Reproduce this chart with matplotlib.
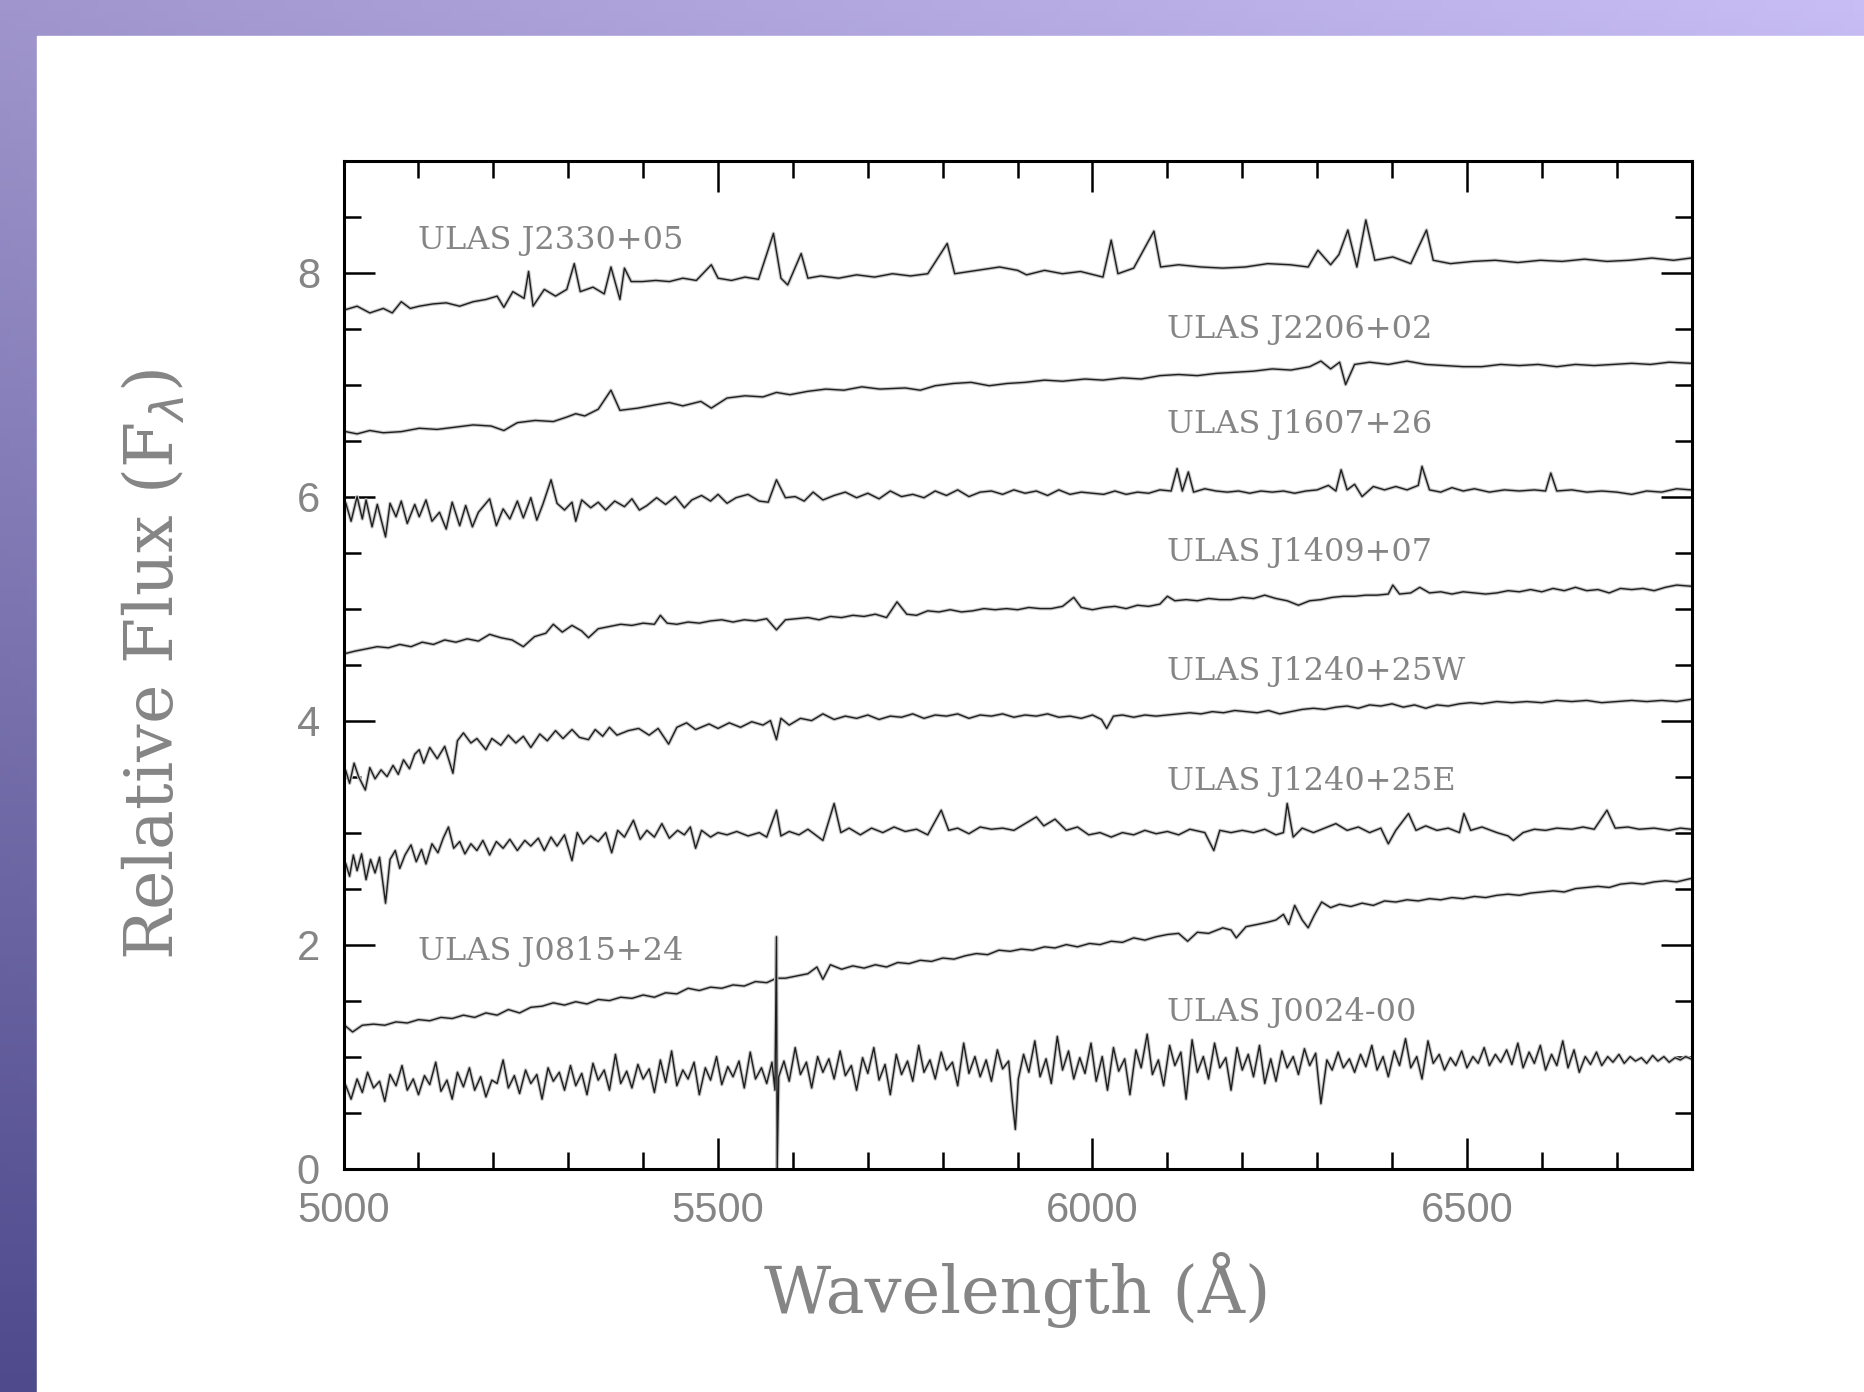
import numpy as np
import matplotlib
matplotlib.use("Agg")
import matplotlib.pyplot as plt
from matplotlib.patches import Rectangle
from matplotlib.ticker import MultipleLocator

# spectra: (wavelength in A, relative flux)
wl_2330 = [5003, 5018, 5035, 5053, 5065, 5077, 5089, 5101, 5119, 5137, 5155, 5173, 5190, 5205, 5214, 5226,
           5241, 5247, 5253, 5268, 5283, 5298, 5308, 5316, 5333, 5348, 5357, 5369, 5375, 5384, 5399, 5417,
           5435, 5453, 5471, 5491, 5500, 5518, 5536, 5554, 5574, 5584, 5593, 5611, 5620, 5637, 5661, 5685,
           5709, 5733, 5757, 5780, 5806, 5816, 5846, 5876, 5900, 5912, 5936, 5960, 5984, 6014, 6025, 6034,
           6055, 6082, 6091, 6115, 6145, 6174, 6204, 6234, 6264, 6288, 6301, 6318, 6329, 6341, 6353, 6365,
           6377, 6401, 6425, 6446, 6455, 6478, 6508, 6538, 6568, 6598, 6627, 6657, 6687, 6717, 6747, 6776, 6799]
fx_2330 = [7.67, 7.70, 7.64, 7.68, 7.64, 7.74, 7.68, 7.70, 7.72, 7.73, 7.70, 7.74, 7.76, 7.79, 7.69, 7.83,
           7.77, 8.01, 7.70, 7.85, 7.79, 7.85, 8.08, 7.83, 7.87, 7.81, 8.05, 7.76, 8.04, 7.92, 7.92, 7.93,
           7.92, 7.95, 7.93, 8.07, 7.95, 7.93, 7.96, 7.94, 8.35, 7.95, 7.89, 8.17, 7.95, 7.97, 7.95, 7.98,
           7.96, 7.99, 7.97, 7.99, 8.26, 7.99, 8.02, 8.05, 8.02, 7.98, 8.02, 7.99, 8.01, 7.96, 8.29, 7.99,
           8.04, 8.37, 8.05, 8.07, 8.05, 8.04, 8.05, 8.08, 8.07, 8.05, 8.20, 8.07, 8.16, 8.38, 8.05, 8.47,
           8.11, 8.14, 8.08, 8.38, 8.11, 8.08, 8.10, 8.11, 8.09, 8.11, 8.10, 8.12, 8.10, 8.11, 8.13, 8.11, 8.13]

wl_2206 = [5003, 5018, 5035, 5053, 5077, 5101, 5125, 5149, 5173, 5197, 5214, 5232, 5256, 5280, 5298, 5310,
           5322, 5340, 5357, 5369, 5393, 5417, 5435, 5453, 5477, 5491, 5512, 5536, 5560, 5578, 5596, 5620,
           5644, 5668, 5692, 5716, 5750, 5770, 5790, 5814, 5838, 5862, 5886, 5910, 5936, 5960, 5990, 6014,
           6040, 6065, 6090, 6115, 6140, 6165, 6190, 6215, 6240, 6265, 6290, 6305, 6318, 6330, 6338, 6350,
           6370, 6395, 6420, 6445, 6470, 6495, 6520, 6545, 6570, 6595, 6620, 6645, 6670, 6695, 6720, 6745,
           6770, 6799]
fx_2206 = [6.58, 6.56, 6.59, 6.57, 6.58, 6.61, 6.60, 6.62, 6.64, 6.63, 6.59, 6.66, 6.68, 6.67, 6.71, 6.74,
           6.72, 6.78, 6.95, 6.77, 6.79, 6.82, 6.84, 6.81, 6.85, 6.79, 6.88, 6.90, 6.89, 6.93, 6.91, 6.94,
           6.96, 6.95, 6.98, 6.96, 6.97, 6.95, 6.99, 7.01, 7.02, 6.99, 7.01, 7.02, 7.04, 7.03, 7.05, 7.04,
           7.06, 7.05, 7.08, 7.09, 7.08, 7.10, 7.11, 7.12, 7.14, 7.13, 7.16, 7.21, 7.14, 7.20, 7.00, 7.18,
           7.20, 7.18, 7.21, 7.18, 7.17, 7.16, 7.16, 7.18, 7.17, 7.18, 7.16, 7.18, 7.17, 7.18, 7.19, 7.18,
           7.20, 7.19]

wl_1607 = [5003, 5010, 5018, 5025, 5030, 5038, 5045, 5056, 5062, 5070, 5077, 5085, 5095, 5101, 5110, 5118,
           5128, 5137, 5145, 5155, 5163, 5172, 5180, 5195, 5204, 5213, 5222, 5232, 5240, 5250, 5258, 5266,
           5277, 5285, 5295, 5305, 5310, 5318, 5330, 5340, 5350, 5362, 5375, 5385, 5395, 5405, 5418, 5430,
           5443, 5455, 5465, 5478, 5490, 5500, 5512, 5524, 5540, 5555, 5567, 5578, 5590, 5603, 5615, 5627,
           5640, 5655, 5670, 5685, 5700, 5715, 5730, 5745, 5760, 5775, 5790, 5805, 5820, 5835, 5850, 5865,
           5880, 5895, 5910, 5925, 5940, 5955, 5970, 5985, 6000, 6015, 6030, 6045, 6060, 6075, 6090, 6105,
           6113, 6120, 6128, 6135, 6150, 6165, 6180, 6195, 6210, 6225, 6240, 6255, 6270, 6285, 6300, 6315,
           6325, 6332, 6340, 6350, 6360, 6375, 6390, 6405, 6420, 6435, 6440, 6450, 6465, 6480, 6495, 6510,
           6530, 6550, 6570, 6590, 6605, 6612, 6620, 6640, 6660, 6680, 6700, 6720, 6740, 6760, 6780, 6799]
fx_1607 = [5.94, 5.78, 6.00, 5.80, 5.97, 5.73, 5.93, 5.64, 5.94, 5.82, 5.96, 5.76, 5.93, 5.82, 5.97, 5.78,
           5.86, 5.71, 5.95, 5.74, 5.92, 5.73, 5.86, 5.98, 5.74, 5.89, 5.80, 5.96, 5.81, 5.99, 5.79, 5.93,
           6.15, 5.94, 5.88, 5.95, 5.78, 5.97, 5.90, 5.95, 5.88, 5.96, 5.91, 5.98, 5.88, 5.92, 5.99, 5.93,
           6.00, 5.90, 5.97, 6.01, 5.96, 6.02, 5.94, 5.99, 6.02, 5.96, 5.95, 6.15, 5.99, 6.00, 5.96, 6.04,
           5.97, 6.01, 6.04, 5.99, 6.03, 5.98, 6.05, 6.00, 6.02, 5.99, 6.05, 6.01, 6.06, 6.00, 6.04, 6.05,
           6.02, 6.06, 6.03, 6.05, 6.01, 6.06, 6.02, 6.04, 6.03, 6.02, 6.05, 6.02, 6.04, 6.03, 6.06, 6.05,
           6.25, 6.05, 6.22, 6.04, 6.07, 6.05, 6.04, 6.05, 6.03, 6.05, 6.04, 6.05, 6.03, 6.05, 6.06, 6.10,
           6.05, 6.24, 6.06, 6.11, 6.00, 6.09, 6.06, 6.09, 6.06, 6.10, 6.27, 6.06, 6.04, 6.08, 6.05, 6.07,
           6.04, 6.06, 6.05, 6.06, 6.05, 6.21, 6.05, 6.06, 6.04, 6.05, 6.04, 6.02, 6.05, 6.04, 6.07, 6.06]

wl_1409 = [5003, 5015, 5030, 5045, 5060, 5075, 5090, 5105, 5120, 5135, 5150, 5165, 5180, 5195, 5210, 5225,
           5240, 5255, 5270, 5280, 5292, 5305, 5318, 5327, 5340, 5355, 5370, 5385, 5400, 5415, 5423, 5432,
           5445, 5460, 5475, 5490, 5505, 5520, 5535, 5550, 5565, 5578, 5590, 5605, 5620, 5635, 5650, 5665,
           5680, 5695, 5710, 5725, 5739, 5752, 5765, 5780, 5795, 5810, 5825, 5840, 5855, 5870, 5885, 5900,
           5915, 5930, 5945, 5960, 5975, 5985, 6000, 6015, 6030, 6045, 6060, 6075, 6090, 6100, 6110, 6125,
           6140, 6155, 6170, 6185, 6200, 6215, 6230, 6245, 6260, 6275, 6290, 6305, 6320, 6335, 6350, 6365,
           6380, 6395, 6401, 6410, 6425, 6437, 6450, 6465, 6480, 6495, 6510, 6525, 6540, 6555, 6570, 6585,
           6600, 6615, 6630, 6645, 6660, 6675, 6690, 6705, 6720, 6735, 6750, 6765, 6780, 6799]
fx_1409 = [4.60, 4.62, 4.64, 4.66, 4.65, 4.68, 4.66, 4.70, 4.68, 4.72, 4.70, 4.73, 4.71, 4.77, 4.74, 4.72,
           4.66, 4.75, 4.78, 4.86, 4.79, 4.85, 4.80, 4.74, 4.82, 4.84, 4.86, 4.85, 4.87, 4.86, 4.94, 4.87,
           4.86, 4.88, 4.87, 4.89, 4.90, 4.88, 4.90, 4.89, 4.91, 4.81, 4.90, 4.91, 4.92, 4.90, 4.93, 4.92,
           4.94, 4.93, 4.95, 4.92, 5.06, 4.95, 4.94, 4.98, 4.97, 4.99, 4.97, 4.98, 5.00, 4.99, 5.00, 4.99,
           5.01, 5.00, 5.00, 5.02, 5.10, 5.01, 4.99, 5.01, 5.02, 5.00, 5.03, 5.02, 5.04, 5.11, 5.07, 5.08,
           5.07, 5.09, 5.08, 5.08, 5.10, 5.09, 5.12, 5.09, 5.07, 5.03, 5.07, 5.08, 5.10, 5.11, 5.11, 5.12,
           5.12, 5.13, 5.21, 5.13, 5.14, 5.19, 5.14, 5.15, 5.13, 5.15, 5.14, 5.13, 5.14, 5.16, 5.15, 5.17,
           5.15, 5.18, 5.16, 5.19, 5.16, 5.17, 5.14, 5.18, 5.17, 5.18, 5.16, 5.19, 5.21, 5.20]

wl_1240w = [5003, 5008, 5014, 5020, 5029, 5035, 5042, 5050, 5058, 5066, 5073, 5080, 5088, 5095, 5101, 5107,
            5115, 5125, 5135, 5146, 5152, 5160, 5170, 5178, 5190, 5198, 5210, 5220, 5230, 5240, 5250, 5262,
            5272, 5283, 5293, 5305, 5315, 5327, 5336, 5346, 5355, 5365, 5380, 5394, 5408, 5420, 5434, 5445,
            5458, 5470, 5488, 5500, 5515, 5530, 5545, 5560, 5570, 5578, 5584, 5595, 5610, 5625, 5640, 5655,
            5670, 5685, 5700, 5715, 5730, 5745, 5760, 5775, 5790, 5805, 5820, 5835, 5850, 5865, 5880, 5895,
            5910, 5925, 5940, 5955, 5970, 5985, 6000, 6012, 6019, 6028, 6040, 6055, 6070, 6085, 6100, 6115,
            6130, 6145, 6160, 6175, 6190, 6205, 6220, 6235, 6250, 6265, 6280, 6295, 6310, 6325, 6340, 6355,
            6370, 6385, 6400, 6415, 6430, 6445, 6460, 6475, 6490, 6505, 6520, 6540, 6560, 6580, 6600, 6620,
            6640, 6660, 6680, 6700, 6720, 6740, 6760, 6780, 6799]
fx_1240w = [3.55, 3.44, 3.62, 3.50, 3.38, 3.58, 3.48, 3.56, 3.50, 3.60, 3.52, 3.65, 3.57, 3.70, 3.74, 3.62,
            3.76, 3.66, 3.77, 3.53, 3.82, 3.89, 3.80, 3.84, 3.74, 3.84, 3.78, 3.87, 3.80, 3.86, 3.76, 3.88,
            3.82, 3.91, 3.84, 3.92, 3.85, 3.83, 3.92, 3.86, 3.94, 3.87, 3.91, 3.93, 3.87, 3.93, 3.79, 3.94,
            3.98, 3.92, 3.97, 3.93, 3.98, 3.94, 3.99, 3.96, 4.00, 3.83, 4.02, 3.96, 4.02, 4.00, 4.06, 4.01,
            4.04, 4.02, 4.05, 4.01, 4.04, 4.03, 4.06, 4.02, 4.05, 4.04, 4.06, 4.02, 4.05, 4.04, 4.06, 4.03,
            4.05, 4.04, 4.06, 4.03, 4.04, 4.02, 4.05, 4.01, 3.93, 4.04, 4.05, 4.03, 4.05, 4.04, 4.05, 4.06,
            4.07, 4.06, 4.08, 4.07, 4.09, 4.08, 4.07, 4.09, 4.06, 4.08, 4.10, 4.11, 4.10, 4.12, 4.13, 4.11,
            4.14, 4.13, 4.15, 4.12, 4.14, 4.11, 4.14, 4.13, 4.15, 4.16, 4.15, 4.17, 4.16, 4.17, 4.16, 4.18,
            4.17, 4.18, 4.16, 4.17, 4.18, 4.17, 4.18, 4.17, 4.19]

wl_1240e = [5003, 5008, 5013, 5018, 5024, 5030, 5036, 5042, 5048, 5056, 5062, 5069, 5075, 5082, 5090, 5097,
            5104, 5110, 5118, 5126, 5133, 5140, 5147, 5155, 5162, 5170, 5178, 5186, 5195, 5204, 5213, 5222,
            5232, 5242, 5250, 5260, 5268, 5277, 5285, 5295, 5305, 5312, 5320, 5330, 5340, 5350, 5358, 5366,
            5375, 5387, 5396, 5405, 5415, 5425, 5435, 5446, 5455, 5463, 5470, 5478, 5490, 5500, 5512, 5525,
            5540, 5555, 5565, 5578, 5584, 5595, 5608, 5620, 5640, 5655, 5664, 5675, 5690, 5705, 5720, 5735,
            5750, 5765, 5780, 5798, 5808, 5820, 5835, 5850, 5865, 5880, 5895, 5910, 5925, 5935, 5950, 5965,
            5980, 5995, 6010, 6025, 6040, 6055, 6070, 6085, 6100, 6115, 6130, 6150, 6162, 6170, 6185, 6200,
            6215, 6230, 6245, 6255, 6260, 6268, 6280, 6295, 6310, 6325, 6340, 6355, 6370, 6385, 6395, 6405,
            6422, 6432, 6445, 6460, 6475, 6490, 6496, 6505, 6520, 6540, 6555, 6562, 6575, 6590, 6605, 6620,
            6640, 6655, 6670, 6687, 6698, 6715, 6730, 6750, 6770, 6785, 6799]
fx_1240e = [2.72, 2.61, 2.80, 2.66, 2.81, 2.58, 2.76, 2.64, 2.78, 2.37, 2.76, 2.84, 2.68, 2.80, 2.89, 2.74,
            2.85, 2.72, 2.90, 2.82, 2.95, 3.05, 2.86, 2.92, 2.81, 2.90, 2.84, 2.93, 2.80, 2.92, 2.86, 2.94,
            2.84, 2.93, 2.88, 2.95, 2.84, 2.96, 2.88, 2.98, 2.75, 3.00, 2.90, 2.97, 2.92, 3.00, 2.82, 3.02,
            2.96, 3.11, 2.94, 3.02, 2.96, 3.08, 2.95, 3.02, 2.98, 3.05, 2.86, 3.02, 2.96, 3.00, 2.98, 3.01,
            2.97, 3.00, 2.96, 3.20, 2.97, 3.01, 2.98, 3.03, 2.93, 3.26, 3.00, 3.04, 2.98, 3.04, 3.00, 3.05,
            3.01, 3.03, 2.98, 3.20, 3.02, 3.04, 2.99, 3.05, 3.03, 3.04, 3.02, 3.08, 3.14, 3.06, 3.12, 3.02,
            3.05, 2.98, 3.00, 2.96, 3.00, 2.98, 3.02, 2.99, 3.01, 2.98, 3.03, 3.00, 2.84, 3.02, 3.00, 3.02,
            3.00, 3.03, 2.98, 3.00, 3.26, 2.96, 3.04, 3.00, 3.04, 3.08, 3.02, 3.05, 3.00, 3.04, 2.90, 3.02,
            3.17, 3.02, 3.06, 3.02, 3.04, 3.00, 3.17, 3.02, 3.05, 3.00, 2.97, 2.93, 3.00, 3.03, 3.02, 3.04,
            3.03, 3.05, 3.03, 3.20, 3.04, 3.05, 3.03, 3.04, 3.02, 3.04, 3.03]

wl_0815 = [5003, 5012, 5025, 5040, 5055, 5070, 5085, 5100, 5115, 5130, 5145, 5160, 5175, 5190, 5205, 5220,
           5235, 5250, 5265, 5280, 5295, 5310, 5325, 5340, 5355, 5370, 5385, 5400, 5415, 5430, 5445, 5460,
           5475, 5490, 5505, 5520, 5535, 5550, 5565, 5578, 5590, 5605, 5620, 5632, 5640, 5650, 5665, 5680,
           5695, 5710, 5725, 5740, 5755, 5770, 5785, 5800, 5815, 5830, 5845, 5860, 5875, 5890, 5905, 5920,
           5936, 5950, 5965, 5980, 5996, 6010, 6025, 6040, 6055, 6070, 6085, 6100, 6115, 6127, 6140, 6155,
           6174, 6185, 6192, 6205, 6220, 6234, 6245, 6255, 6262, 6270, 6280, 6288, 6296, 6306, 6318, 6330,
           6345, 6360, 6375, 6390, 6405, 6420, 6435, 6450, 6465, 6480, 6495, 6510, 6525, 6540, 6555, 6570,
           6585, 6600, 6615, 6630, 6645, 6660, 6675, 6690, 6705, 6720, 6735, 6750, 6765, 6780, 6799]
fx_0815 = [1.27, 1.22, 1.28, 1.29, 1.28, 1.31, 1.30, 1.33, 1.32, 1.35, 1.34, 1.37, 1.35, 1.39, 1.37, 1.42,
           1.39, 1.44, 1.45, 1.48, 1.46, 1.49, 1.47, 1.51, 1.50, 1.53, 1.52, 1.55, 1.53, 1.57, 1.56, 1.61,
           1.59, 1.62, 1.61, 1.64, 1.63, 1.67, 1.66, 1.70, 1.70, 1.72, 1.74, 1.80, 1.69, 1.82, 1.78, 1.81,
           1.79, 1.82, 1.80, 1.84, 1.83, 1.86, 1.85, 1.88, 1.87, 1.90, 1.92, 1.91, 1.95, 1.94, 1.96, 1.95,
           1.98, 1.97, 2.00, 1.98, 2.01, 2.00, 2.03, 2.02, 2.06, 2.04, 2.07, 2.09, 2.10, 2.03, 2.11, 2.10,
           2.15, 2.13, 2.06, 2.16, 2.18, 2.20, 2.22, 2.27, 2.18, 2.35, 2.22, 2.15, 2.26, 2.38, 2.33, 2.36,
           2.34, 2.37, 2.35, 2.39, 2.38, 2.40, 2.39, 2.41, 2.40, 2.42, 2.41, 2.43, 2.42, 2.44, 2.45, 2.44,
           2.46, 2.47, 2.48, 2.47, 2.50, 2.51, 2.52, 2.51, 2.54, 2.55, 2.54, 2.56, 2.57, 2.56, 2.59]

wl_0024 = [5003, 5010, 5018, 5025, 5032, 5040, 5048, 5055, 5062, 5070, 5078, 5085, 5093, 5100, 5108, 5115,
           5123, 5130, 5138, 5145, 5152, 5160, 5168, 5175, 5183, 5190, 5198, 5205, 5213, 5220, 5228, 5235,
           5243, 5250, 5258, 5265, 5273, 5280, 5288, 5295, 5303, 5310, 5318, 5325, 5333, 5340, 5348, 5355,
           5363, 5370, 5378, 5385, 5393, 5400, 5408, 5415, 5423, 5430, 5438, 5445, 5453, 5460, 5468, 5475,
           5483, 5490, 5498, 5505, 5513, 5520, 5528, 5535, 5543, 5550, 5558, 5565, 5572, 5576, 5578, 5579,
           5581, 5588, 5595, 5603, 5610, 5618, 5625, 5633, 5640, 5648, 5655, 5663, 5670, 5678, 5685, 5693,
           5700, 5708, 5715, 5723, 5730, 5738, 5745, 5753, 5760, 5768, 5775, 5783, 5790, 5798, 5805, 5813,
           5820, 5828, 5835, 5843, 5850, 5858, 5865, 5873, 5880, 5888, 5893, 5897, 5901, 5908, 5915, 5923,
           5930, 5938, 5945, 5953, 5960, 5968, 5975, 5983, 5990, 5998, 6005, 6013, 6020, 6028, 6035, 6043,
           6050, 6058, 6065, 6073, 6080, 6088, 6095, 6103, 6110, 6118, 6125, 6133, 6140, 6148, 6155, 6163,
           6170, 6178, 6185, 6193, 6200, 6208, 6215, 6223, 6230, 6238, 6245, 6253, 6260, 6268, 6275, 6283,
           6290, 6298, 6305, 6313, 6320, 6328, 6335, 6343, 6350, 6358, 6365, 6373, 6380, 6388, 6395, 6403,
           6410, 6418, 6425, 6433, 6440, 6448, 6455, 6463, 6470, 6478, 6485, 6493, 6500, 6508, 6515, 6523,
           6530, 6538, 6545, 6553, 6560, 6568, 6575, 6583, 6590, 6598, 6605, 6613, 6620, 6628, 6635, 6643,
           6650, 6658, 6665, 6673, 6680, 6688, 6695, 6703, 6710, 6718, 6725, 6733, 6740, 6748, 6755, 6763,
           6770, 6778, 6785, 6792, 6799]
fx_0024 = [0.74, 0.62, 0.80, 0.68, 0.86, 0.72, 0.78, 0.60, 0.84, 0.74, 0.92, 0.70, 0.80, 0.66, 0.83, 0.75,
           0.95, 0.69, 0.79, 0.62, 0.86, 0.73, 0.90, 0.70, 0.82, 0.64, 0.79, 0.76, 0.97, 0.72, 0.83, 0.67,
           0.88, 0.76, 0.84, 0.62, 0.90, 0.78, 0.86, 0.70, 0.92, 0.74, 0.85, 0.66, 0.94, 0.79, 0.88, 0.70,
           1.02, 0.76, 0.87, 0.72, 0.93, 0.80, 0.89, 0.68, 0.97, 0.77, 1.05, 0.74, 0.88, 0.80, 0.95, 0.66,
           0.90, 0.79, 1.00, 0.75, 0.91, 0.82, 0.96, 0.72, 1.04, 0.80, 0.90, 0.76, 0.95, 0.70, 2.07, 0.00,
           0.82, 0.96, 0.78, 1.08, 0.84, 0.95, 0.72, 1.00, 0.86, 0.98, 0.80, 1.05, 0.83, 0.92, 0.70, 0.99,
           0.85, 1.08, 0.79, 0.93, 0.66, 1.02, 0.84, 0.96, 0.78, 1.10, 0.86, 0.97, 0.80, 1.04, 0.88, 0.95,
           0.74, 1.12, 0.85, 1.00, 0.82, 0.97, 0.78, 1.06, 0.89, 0.96, 0.60, 0.35, 0.80, 1.02, 0.86, 1.14,
           0.82, 0.98, 0.76, 1.18, 0.88, 1.05, 0.80, 0.99, 0.85, 1.12, 0.78, 1.00, 0.70, 1.08, 0.87, 0.98,
           0.66, 1.06, 0.90, 1.20, 0.84, 0.97, 0.74, 1.10, 0.92, 1.04, 0.62, 1.15, 0.86, 1.00, 0.80, 1.12,
           0.90, 0.99, 0.70, 1.08, 0.88, 1.02, 0.82, 1.10, 0.76, 0.98, 0.78, 1.05, 0.90, 1.00, 0.84, 1.07,
           0.92, 1.03, 0.58, 0.97, 0.88, 1.04, 0.90, 0.98, 0.86, 1.02, 0.91, 1.10, 0.88, 1.00, 0.82, 1.05,
           0.92, 1.16, 0.90, 1.00, 0.80, 1.14, 0.94, 1.02, 0.88, 0.99, 0.92, 1.05, 0.90, 1.00, 0.94, 1.08,
           0.92, 1.02, 0.95, 1.06, 0.93, 1.12, 0.90, 1.04, 0.94, 1.10, 0.88, 1.02, 0.92, 1.14, 0.90, 1.06,
           0.86, 1.00, 0.93, 1.04, 0.92, 1.00, 0.95, 1.02, 0.94, 1.00, 0.96, 0.99, 0.94, 1.01, 0.96, 1.00,
           0.95, 0.99, 0.97, 1.00, 0.98]

spectra = [(wl_2330, fx_2330), (wl_2206, fx_2206), (wl_1607, fx_1607), (wl_1409, fx_1409),
           (wl_1240w, fx_1240w), (wl_1240e, fx_1240e), (wl_0815, fx_0815), (wl_0024, fx_0024)]

names = ["ULAS J2330+05", "ULAS J2206+02", "ULAS J1607+26", "ULAS J1409+07",
         "ULAS J1240+25W", "ULAS J1240+25E", "ULAS J0815+24", "ULAS J0024-00"]
name_x = [5100, 6100, 6100, 6100, 6100, 6100, 5100, 6100]
name_y = [8.29, 7.49, 6.64, 5.50, 4.44, 3.46, 1.94, 1.39]

W, H = 1864, 1392
fig = plt.figure(figsize=(W / 100, H / 100), dpi=100)

# purple slide background with white panel
bg = fig.add_axes([0, 0, 1, 1])
bg.set_axis_off()
ny, nx = 140, 190
top = np.array([[160, 150, 205]]) + np.linspace(0, 1, nx)[:, None] * np.array([[40, 40, 40]])
bot = np.array([[78, 74, 140]])
t = np.linspace(0, 1, ny)[:, None, None]
img = (top[None, :, :] * (1 - t) + bot[None, :, :] * t) / 255.0
bg.imshow(img, extent=[0, 1, 0, 1], aspect="auto", origin="upper")
bg.add_patch(Rectangle((37 / W, 0), 1, 1 - 36 / H, color="white", transform=bg.transAxes))
bg.set_xlim(0, 1)
bg.set_ylim(0, 1)

ax = fig.add_axes([343.6 / W, 1 - 1168.6 / H, 1348 / W, 1008 / H])
ax.set_facecolor("white")

for wl, fx in spectra:
    ax.plot(wl, fx, color="#c4c4c4", lw=2.6, solid_joinstyle="round")
    ax.plot(wl, fx, color="#1e1e1e", lw=1.0, solid_joinstyle="round")

serif = "DejaVu Serif"
grey = "#858585"
for name, x, y in zip(names, name_x, name_y):
    ax.text(x, y, name, family=serif, fontsize=23, color=grey, va="center", ha="left")

ax.set_xlim(5000, 6800)
ax.set_ylim(0, 9)
ax.xaxis.set_major_locator(MultipleLocator(500))
ax.xaxis.set_minor_locator(MultipleLocator(100))
ax.yaxis.set_major_locator(MultipleLocator(2))
ax.yaxis.set_minor_locator(MultipleLocator(0.5))
ax.tick_params(which="both", direction="in", top=True, right=True, width=1.8, color="black")
ax.tick_params(which="major", length=22, labelsize=30, labelcolor=grey)
ax.tick_params(which="minor", length=12)
ax.tick_params(axis="x", which="major", pad=16)
ax.tick_params(axis="y", which="major", pad=17)
for lab in ax.get_xticklabels() + ax.get_yticklabels():
    lab.set_family("Liberation Sans")
for sp in ax.spines.values():
    sp.set_linewidth(2.2)

plt.rcParams["mathtext.fontset"] = "dejavuserif"
ax.set_xlabel("Wavelength (Å)", family=serif, fontsize=47, color=grey, va="center")
ax.xaxis.set_label_coords(0.5, (1168.6 - 1290) / 1008)
ax.set_ylabel(r"Relative Flux (F$_\lambda$)", family=serif, fontsize=48, color=grey, va="center")
ax.yaxis.set_label_coords((154.5 - 343.6) / 1348, 0.5)

fig.savefig("out.png", dpi=100)
